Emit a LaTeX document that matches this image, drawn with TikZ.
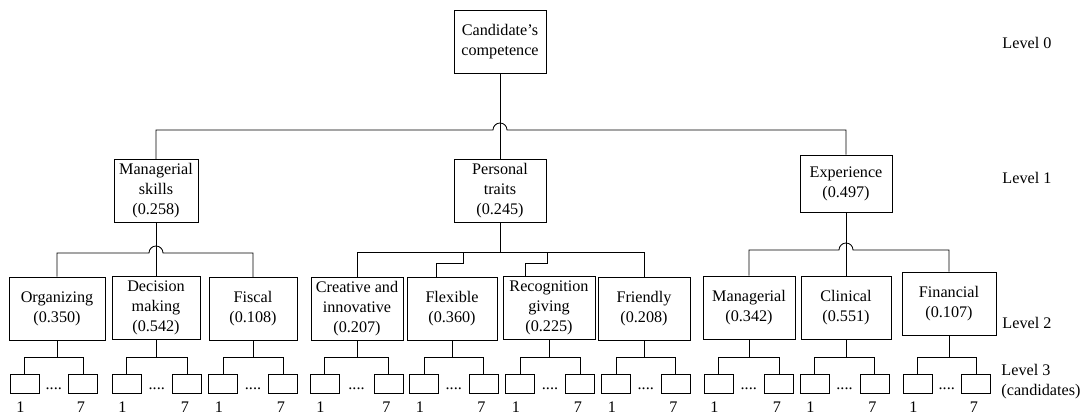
\documentclass[tikz,border=0pt]{standalone}
\usepackage{fontspec}
\setmainfont{Liberation Serif}
\usetikzlibrary{calc}

\begin{document}
\begin{tikzpicture}[x=0.025cm, y=-0.025cm, line width=0.6pt,
    font=\fontsize{11.5}{14.2}\selectfont,
    critbox/.style={draw=black, minimum width=2.3cm, minimum height=1.575cm, align=center, inner sep=2pt},
    altbox/.style={draw=black, minimum width=0.725cm, minimum height=0.475cm, inner sep=0pt},
    lvl/.style={anchor=west, align=left, inner sep=0pt}]

\useasboundingbox (0,0) rectangle (1089,415);

%
\node[critbox] (goal) at (500,41.5) {Candidate's\\competence};

\node[critbox, minimum width=2.1cm] (mgs) at (156,191) {Managerial\\skills\\(0.258)};
\node[critbox] (pet) at (500,190.5) {Personal\\traits\\(0.245)};
\node[critbox, minimum height=1.425cm] (exp) at (846,183.5) {Experience\\(0.497)};

\node[critbox, minimum width=2.4cm] (org) at (57,308.5) {Organizing\\(0.350)};
\node[critbox, minimum width=2.2cm] (dm)  at (156,307.5) {Decision\\making\\(0.542)};
\node[critbox, minimum width=2.2cm] (fis) at (253,309) {Fiscal\\(0.108)};
\node[critbox] (cre) at (357,309) {Creative and\\innovative\\(0.207)};
\node[critbox, minimum width=2.25cm] (flx) at (452,309) {Flexible\\(0.360)};
\node[critbox] (rec) at (549,308) {Recognition\\giving\\(0.225)};
\node[critbox] (fri) at (644,308.5) {Friendly\\(0.208)};
\node[critbox] (man) at (749,307.5) {Managerial\\(0.342)};
\node[critbox, minimum width=2.25cm] (cli) at (846,307.5) {Clinical\\(0.551)};
\node[critbox, minimum width=2.35cm] (fin) at (949,303.5) {Financial\\(0.107)};

%
\node[lvl] (lv0) at (1002,43) {Level 0};
\node[lvl] (lv1) at (1002,178) {Level 1};
\node[lvl] (lv2) at (1002,323) {Level 2};
\node[lvl] (lv3) at (1001,382) {Level 3\\(candidates)};

%
\coordinate (busT) at (500,130);
\draw (mgs.north) |- ([xshift=-0.175cm]busT) arc[start angle=180, end angle=0, radius=0.175cm] -| (exp.north);
\draw (goal.south) -- (pet.north);

\coordinate (busM) at (156,253);
\draw (org.north) |- ([xshift=-0.175cm]busM) arc[start angle=180, end angle=0, radius=0.175cm] -| (fis.north);
\draw (mgs.south) -- (dm.north);

\coordinate (busP) at (500,252);
\coordinate (stepF) at (463,263);
\coordinate (stepR) at (547,263);
\draw (cre.north) |- (fri.north |- busP) -- (fri.north);
\draw (pet.south) -- (busP);
\draw ([xshift=-0.4cm]flx.north) |- (stepF) -- (stepF |- busP);
\draw ([xshift=-0.6cm]rec.north) |- (stepR) -- (stepR |- busP);

\coordinate (busE) at (846,250);
\draw (man.north) |- ([xshift=-0.175cm]busE) arc[start angle=180, end angle=0, radius=0.175cm] -| (fin.north);
\draw (exp.south) -- (cli.north);

%
\foreach \nm/\lx/\rx in {org/24.5/83, dm/126.5/187, fis/223/283, cre/324.5/388.5,
    flx/424/483.5, rec/520/580, fri/616/675.5, man/718.5/779, cli/814.5/874.5, fin/917.5/976}{
  \node[altbox] (\nm-a) at (\lx,383.5) {};
  \node[altbox] (\nm-b) at (\rx,383.5) {};
  \node[inner sep=0pt, anchor=base] (\nm-d) at ($(\nm-a.south)!0.5!(\nm-b.south)+(0,-4)$) {....};
  \node[inner sep=0pt, anchor=base] (\nm-1) at ($(\nm-a.south)+(-4,19)$) {1};
  \node[inner sep=0pt, anchor=base] (\nm-7) at ($(\nm-b.south)+(-2,19)$) {7};
  \draw (\nm-a.north) -- ++(0,-16) coordinate (\nm-j) -| (\nm-b.north);
  \draw (\nm.south) -- (\nm.south |- \nm-j);
}
\end{tikzpicture}
\end{document}
